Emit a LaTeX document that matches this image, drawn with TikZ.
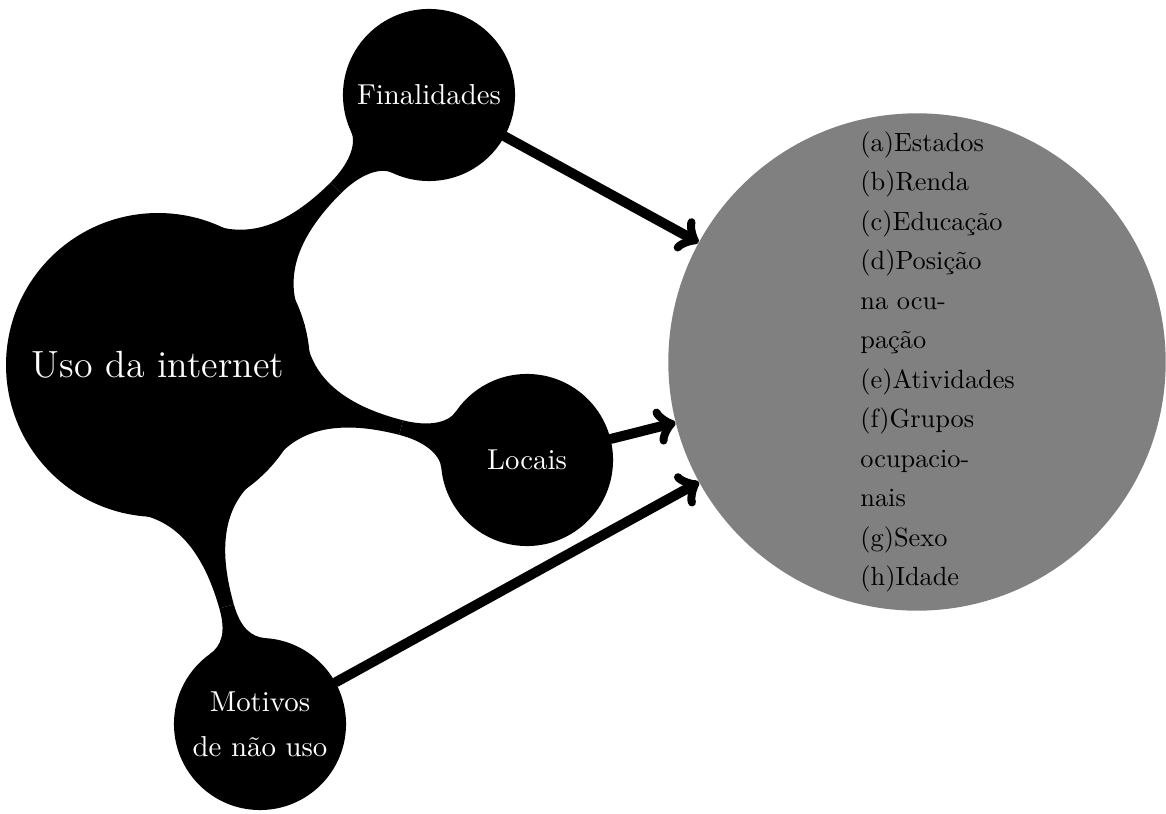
\documentclass[tikz,border=0pt]{standalone}
\usetikzlibrary{calc,backgrounds,arrows.meta}
\newcommand\connbar[2]{%
  \fill[barfill] ($(#1)!50.02pt!(#2)!28.88pt!90:(#2)$)
    .. controls ($(#1)!54.34pt!(#2)!15.2pt!90:(#2)$) and ($(#1)!64.6pt!(#2)!2.85pt!90:(#2)$)
    .. ($(#1)!95.38pt!(#2)!2.85pt!90:(#2)$)
    -- ($(#1)!95.38pt!(#2)!2.85pt!-90:(#2)$)
    .. controls ($(#1)!64.6pt!(#2)!2.85pt!-90:(#2)$) and ($(#1)!54.34pt!(#2)!15.2pt!-90:(#2)$)
    .. ($(#1)!50.02pt!(#2)!28.88pt!-90:(#2)$) -- cycle;
  \fill[barfill] ($(#1)!95.38pt!(#2)!2.85pt!90:(#2)$)
    .. controls ($(#1)!104.7pt!(#2)!2.85pt!90:(#2)$) and ($(#2)!32.64pt!(#1)!5.81pt!-90:(#1)$)
    .. ($(#2)!30.71pt!(#1)!11.18pt!-90:(#1)$)
    -- ($(#2)!30.71pt!(#1)!11.18pt!90:(#1)$)
    .. controls ($(#2)!32.64pt!(#1)!5.81pt!90:(#1)$) and ($(#1)!104.7pt!(#2)!2.85pt!-90:(#2)$)
    .. ($(#1)!95.38pt!(#2)!2.85pt!-90:(#2)$) -- cycle;
}
\begin{document}
\begin{tikzpicture}[x=0.38pt,y=0.38pt,
  conceptnode/.style={circle, fill=black, text=white, inner sep=0pt, align=center},
  rootsty/.style={conceptnode, minimum size=115.5pt, text width=100pt, font=\fontsize{14.4}{18}\selectfont},
  lvlone/.style={conceptnode, minimum size=65.4pt, text width=56pt, font=\fontsize{10.95}{17}\selectfont},
  barfill/.style={fill=black},
  graycircle/.style={circle, fill=gray, text=black, minimum size=189pt, text width=43pt, align=left, font=\fontsize{10}{15}\selectfont},
  arrowline/.style={line width=3.8pt, line cap=round, -{Classical TikZ Rightarrow[length=7.5pt,width=14pt]}}]
\useasboundingbox (0,0) rectangle (1166,813);
\node[rootsty] (root) at (158,448) {Uso da internet};
\node[lvlone] (fin) at (429,718) {Finalidades};
\node[lvlone] (loc) at (527,353) {Locais};
\node[lvlone] (mot) at (260,89) {Motivos de não uso};
\begin{pgfonlayer}{background}
  \connbar{root}{fin}
  \connbar{root}{loc}
  \connbar{root}{mot}
\end{pgfonlayer}
\node[graycircle] (gray) at (917,451) {(a)Estados\\(b)Renda\\(c)Educação\\(d)Posição\\na ocu-\\pação\\(e)Atividades\\(f)Grupos\\ocupacio-\\nais\\(g)Sexo\\(h)Idade};
\draw[arrowline] (fin) -- (gray);
\draw[arrowline] (loc) -- (gray);
\draw[arrowline] (mot) -- (gray);
\end{tikzpicture}
\end{document}
